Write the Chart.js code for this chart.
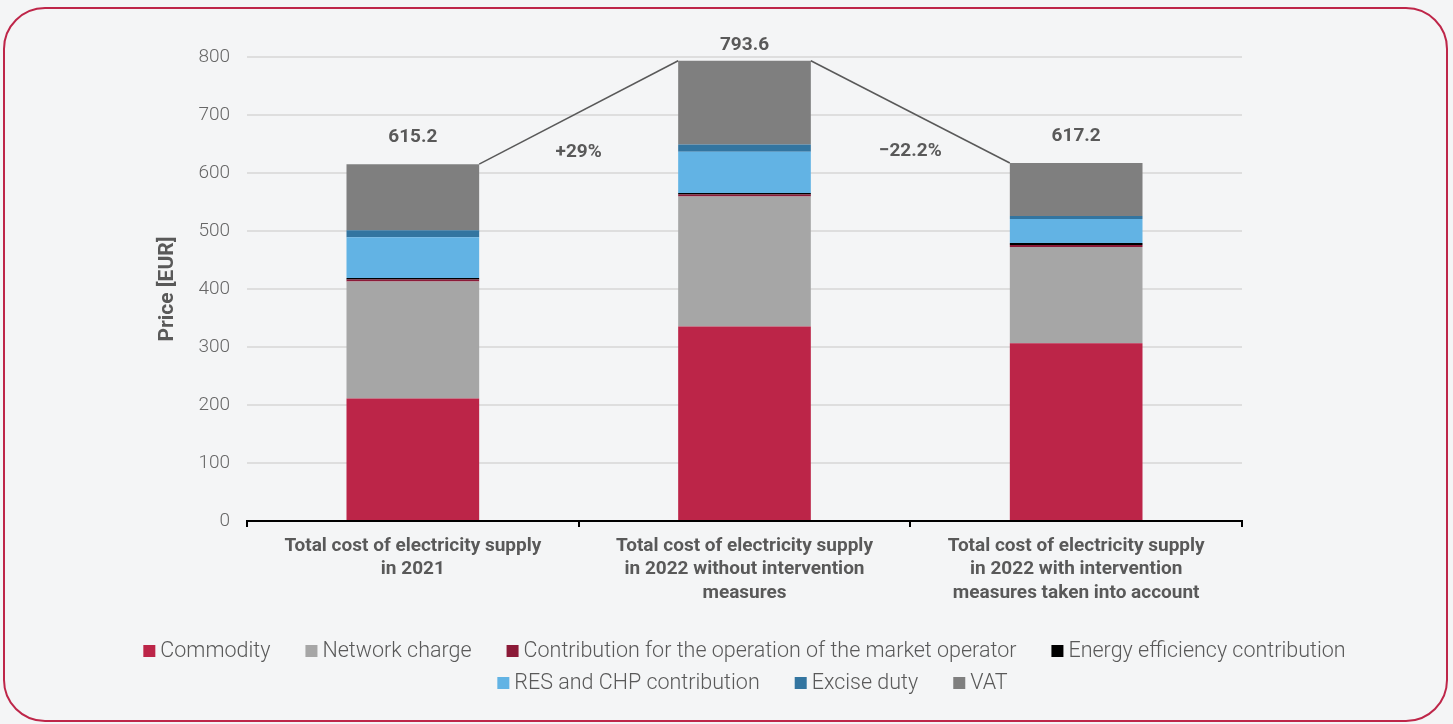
<!DOCTYPE html>
<html>
<head>
<meta charset="utf-8">
<script src="https://cdn.jsdelivr.net/npm/chart.js@4"></script>
<style>
  html, body { margin: 0; padding: 0; background: #f4f5f6; }
  #wrap { position: relative; width: 1453px; height: 724px; overflow: hidden; }
  #frame {
    position: absolute; left: 3px; top: 7px; width: 1441px; height: 711px;
    border: 2.5px solid #be2649; border-radius: 42px; box-sizing: content-box;
  }
  canvas { position: absolute; left: 0; top: 0; }
</style>
</head>
<body>
<div id="wrap">
  <div id="frame"></div>
  <canvas id="chart" width="1453" height="724"></canvas>
</div>
<script>
const categories = [
  ['Total cost of electricity supply', 'in 2021'],
  ['Total cost of electricity supply', 'in 2022 without intervention', 'measures'],
  ['Total cost of electricity supply', 'in 2022 with intervention', 'measures taken into account']
];
const commodity        = [211.0, 335.3, 306.5];
const networkCharge    = [202.0, 224.0, 166.0];
const marketOperator   = [3.5, 3.7, 3.5];
const energyEfficiency = [2.3, 2.5, 3.2];
const resChp           = [70.5, 71.0, 41.5];
const exciseDuty       = [12.0, 12.6, 5.0];
const vat              = [113.9, 144.5, 91.5];
const totals  = ['615.2', '793.6', '617.2'];
const changes = ['+29%', '\u221222.2%'];
const yTicks  = [0, 100, 200, 300, 400, 500, 600, 700, 800];
const legendRows = [[0, 1, 2, 3], [4, 5, 6]];

const textGrey = '#595959';
const FONT = 'Roboto, "DejaVu Sans", sans-serif';

// connector lines, totals and change labels
const annotate = {
  id: 'annotate',
  afterDatasetsDraw(chart) {
    const ctx = chart.ctx;
    const top = chart.getDatasetMeta(chart.data.datasets.length - 1).data;
    const area = chart.chartArea;
    const x = chart.scales.x;
    ctx.save();
    ctx.strokeStyle = '#595959';
    ctx.lineWidth = 1.5;
    for (let i = 0; i < top.length - 1; i++) {
      const a = top[i], b = top[i + 1];
      ctx.beginPath();
      ctx.moveTo(a.x + a.width / 2, a.y);
      ctx.lineTo(b.x - b.width / 2, b.y);
      ctx.stroke();
    }
    ctx.fillStyle = textGrey;
    ctx.font = 'bold 19px ' + FONT;
    ctx.textAlign = 'center';
    ctx.textBaseline = 'middle';
    top.forEach((bar, i) => {
      ctx.fillText(totals[i], bar.x, Math.max(bar.y - 27, area.top - 12));
    });
    changes.forEach((txt, i) => {
      const yy = Math.max(top[i].y, top[i + 1].y) - 12;
      ctx.fillText(txt, x.getPixelForValue(i + 0.5), yy);
    });
    ctx.restore();
  }
};

// two-row legend like the original
const legend = {
  id: 'rowLegend',
  afterDraw(chart) {
    const ctx = chart.ctx;
    const sets = chart.data.datasets;
    const area = chart.chartArea;
    const cx = (area.left + area.right) / 2;
    const box = 12, gapText = 5, gapItem = 35;
    ctx.save();
    ctx.font = '300 21.5px ' + FONT;
    ctx.textBaseline = 'middle';
    ctx.textAlign = 'left';
    legendRows.forEach((row, r) => {
      const widths = row.map(i => box + gapText + ctx.measureText(sets[i].label).width);
      const total = widths.reduce((a, b) => a + b, 0) + gapItem * (row.length - 1);
      let xx = cx - total / 2 + r * 8;
      const yy = area.bottom + 130 + r * 32;
      row.forEach((i, k) => {
        ctx.fillStyle = sets[i].backgroundColor;
        ctx.fillRect(xx, yy - box / 2, box, box);
        ctx.fillStyle = textGrey;
        ctx.fillText(sets[i].label, xx + box + gapText, yy + 1);
        xx += widths[k] + gapItem;
      });
    });
    ctx.restore();
  }
};

const ds = (label, data, color) => ({ label, data, backgroundColor: color, stack: 's' });

new Chart(document.getElementById('chart'), {
  type: 'bar',
  data: {
    labels: categories,
    datasets: [
      ds('Commodity', commodity, '#bc2548'),
      ds('Network charge', networkCharge, '#a6a6a6'),
      ds('Contribution for the operation of the market operator', marketOperator, '#8b1a38'),
      ds('Energy efficiency contribution', energyEfficiency, '#000000'),
      ds('RES and CHP contribution', resChp, '#62b3e4'),
      ds('Excise duty', exciseDuty, '#3375a0'),
      ds('VAT', vat, '#7f7f7f')
    ]
  },
  options: {
    responsive: false,
    animation: false,
    categoryPercentage: 1,
    barPercentage: 0.4,
    layout: { padding: { left: 27, right: 211, top: 57, bottom: 98 } },
    plugins: {
      tooltip: { enabled: false },
      legend: { display: false }
    },
    scales: {
      x: {
        stacked: true,
        afterFit(s) { s.height = 105; },
        border: { display: true, color: '#000', width: 2 },
        grid: {
          offset: true,
          drawOnChartArea: false,
          drawTicks: true,
          tickLength: 6,
          color: '#000',
          lineWidth: 2
        },
        ticks: {
          color: textGrey,
          padding: 7,
          maxRotation: 0,
          autoSkip: false,
          font: { family: FONT, size: 19, weight: 'bold', lineHeight: 1.24 }
        }
      },
      y: {
        stacked: true,
        min: 0,
        max: 800,
        afterFit(s) { s.width = 220; },
        afterBuildTicks(s) { s.ticks = yTicks.map(v => ({ value: v })); },
        border: { display: false },
        grid: { color: '#dedede', lineWidth: 2, drawTicks: false },
        ticks: {
          color: '#666',
          padding: 17,
          font: { family: FONT, size: 19, weight: '300' }
        },
        title: {
          display: true,
          text: 'Price [EUR]',
          color: textGrey,
          padding: { top: 128 },
          font: { family: FONT, size: 21, weight: 'bold' }
        }
      }
    }
  },
  plugins: [annotate, legend]
});
</script>
</body>
</html>
